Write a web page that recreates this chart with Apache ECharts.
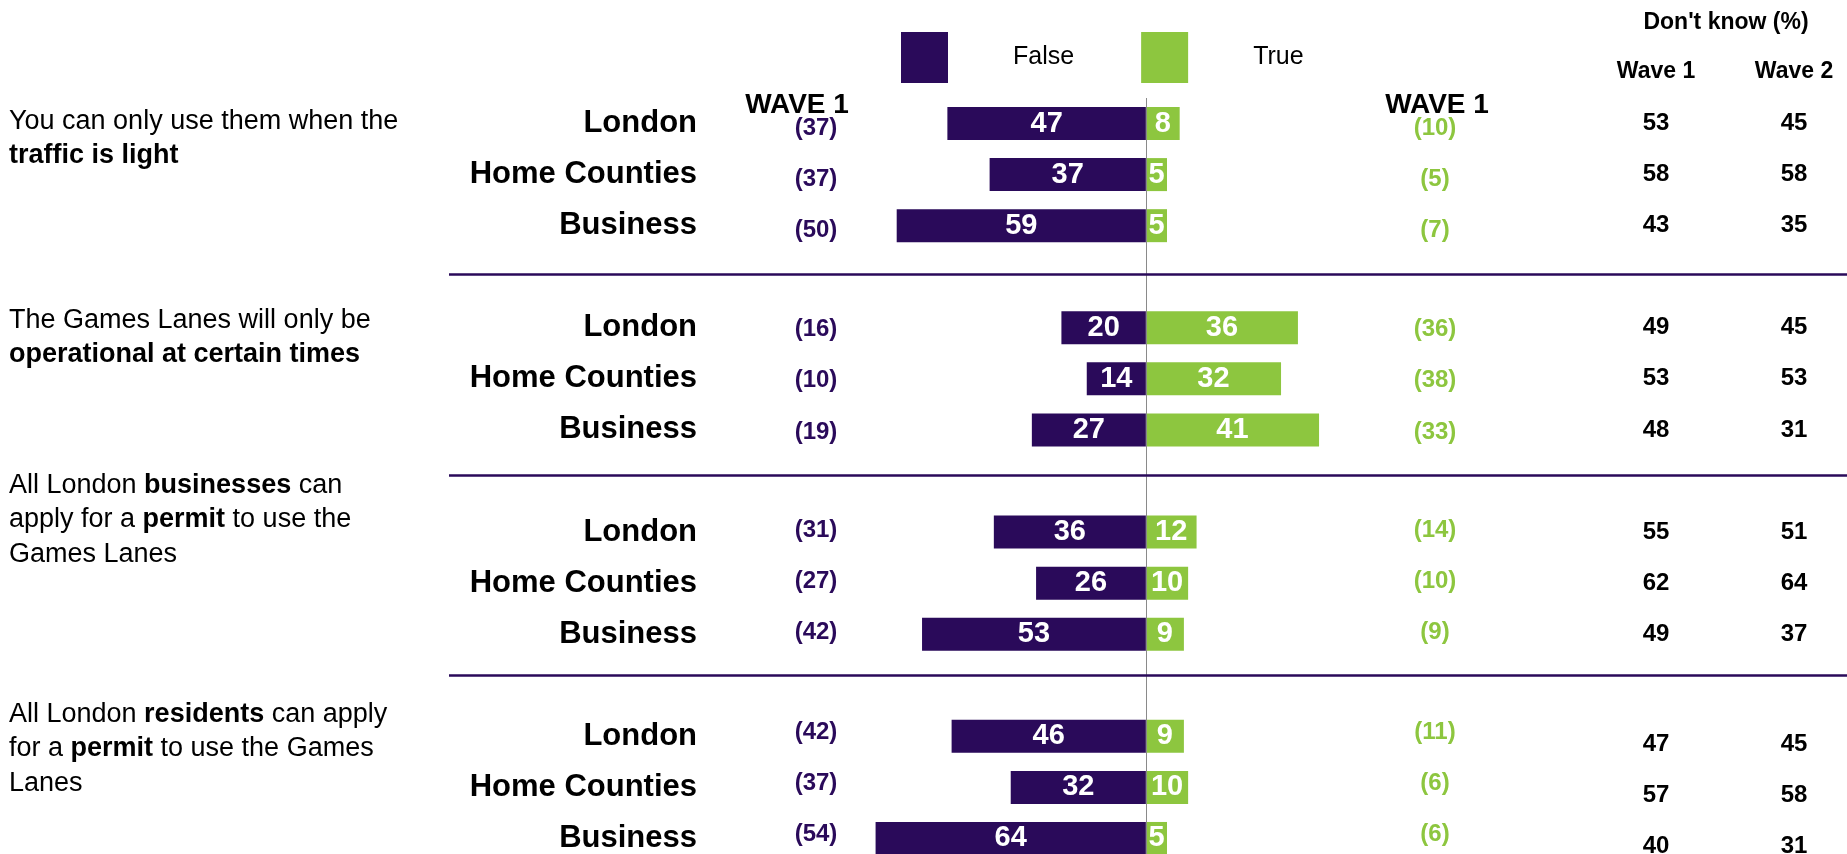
<!DOCTYPE html>
<html>
<head>
<meta charset="UTF-8">
<title>Games Lanes - True / False</title>
<style>
  html, body { margin: 0; padding: 0; background: #fff; }
  #chart { width: 1847px; height: 854px; }
</style>
</head>
<body>
<div id="chart"></div>
<script src="https://cdn.jsdelivr.net/npm/echarts@6/dist/echarts.min.js"></script>
<script>
// groups shown under each statement
const groups = ['London', 'Home Counties', 'Business'];

// statements (rich text: n = normal, b = bold)
const statements = [
  '{n|You can only use them when the}\n{b|traffic is light}',
  '{n|The Games Lanes will only be}\n{b|operational at certain times}',
  '{n|All London }{b|businesses}{n| can}\n{n|apply for a }{b|permit}{n| to use the}\n{n|Games Lanes}',
  '{n|All London }{b|residents}{n| can apply}\n{n|for a }{b|permit}{n| to use the Games}\n{n|Lanes}'
];

// wave 2 shares (%), one per row, statement by statement
const falseWave2 = [47, 37, 59, 20, 14, 27, 36, 26, 53, 46, 32, 64];
const trueWave2  = [8, 5, 5, 36, 32, 41, 12, 10, 9, 9, 10, 5];

// wave 1 shares shown in brackets
const falseWave1 = [37, 37, 50, 16, 10, 19, 31, 27, 42, 42, 37, 54];
const trueWave1  = [10, 5, 7, 36, 38, 33, 14, 10, 9, 11, 6, 6];

// don't know (%)
const dkWave1 = [53, 58, 43, 49, 53, 48, 55, 62, 49, 47, 57, 40];
const dkWave2 = [45, 58, 35, 45, 53, 31, 51, 64, 37, 45, 58, 31];

const legendNames = ['False', 'True'];

const PURPLE = '#2a0a5a';
const GREEN = '#8dc63f';
const FONT = '"Liberation Sans", Arial, sans-serif';

// put an empty slot between the statement blocks
function withGaps(arr) {
  const out = [];
  arr.forEach((v, i) => {
    if (i > 0 && i % 3 === 0) out.push(null);
    out.push(v);
  });
  return out;
}

const rowNames = withGaps(statements.flatMap(() => groups));
const keys = rowNames.map((_, i) => 'r' + i);

// small vertical nudges per statement block (px, + = down), like the original slide
function nudges(shifts) {
  const rich = {};
  shifts.forEach((s, g) => {
    rich['g' + g] = { padding: s >= 0 ? [2 * s, 0, 0, 0] : [0, 0, -2 * s, 0] };
  });
  return rich;
}

function labelAxis(values, fmt, margin, align, style, shifts) {
  const label = {
    interval: 0,
    margin: margin,
    align: align,
    fontFamily: FONT,
    formatter: (v, i) => {
      if (values[i] == null) return '';
      const t = fmt(values[i]);
      return shifts ? '{g' + Math.floor(i / 4) + '|' + t + '}' : t;
    }
  };
  if (shifts) {
    const rich = nudges(shifts);
    Object.keys(rich).forEach(k => Object.assign(rich[k], style));
    label.rich = rich;
  }
  return {
    type: 'category',
    position: 'left',
    inverse: true,
    data: keys,
    axisLine: { show: false },
    axisTick: { show: false },
    splitLine: { show: false },
    axisLabel: Object.assign(label, style)
  };
}

const br = v => '(' + v + ')';

const chart = echarts.init(document.getElementById('chart'));

const texts = [];
statements.forEach((s, k) => {
  texts.push({
    type: 'text', x: 9, y: [104, 303, 468, 697][k],
    style: {
      text: s, align: 'left', verticalAlign: 'top',
      rich: {
        n: { fontSize: 27, fontFamily: FONT, fill: '#000', lineHeight: 34.5 },
        b: { fontSize: 27, fontFamily: FONT, fontWeight: 'bold', fill: '#000', lineHeight: 34.5 }
      }
    }
  });
});
function head(text, x, y, size) {
  return {
    type: 'text', x: x, y: y,
    style: { text: text, fill: '#000', font: 'bold ' + size + 'px ' + FONT, align: 'center', verticalAlign: 'middle' }
  };
}
texts.push(head('WAVE 1', 797, 105, 28));
texts.push(head('WAVE 1', 1437, 105, 28));
texts.push(head("Don't know (%)", 1726, 23, 23));
texts.push(head('Wave 1', 1656, 72, 23));
texts.push(head('Wave 2', 1794, 72, 23));

const waveShift = [5, 2, -2, -4];
const dkShift = [0, 0, 0, 8];

const option = {
  animation: false,
  backgroundColor: '#fff',
  textStyle: { fontFamily: FONT },
  grid: { left: 449, right: 0, top: 98, height: 766, outerBoundsMode: 'none', containLabel: false },
  legend: {
    data: legendNames,
    left: 901,
    top: 32,
    padding: 0,
    itemWidth: 47,
    itemHeight: 51,
    itemGap: 67,
    icon: 'rect',
    selectedMode: false,
    textStyle: { fontSize: 25, color: '#000', fontFamily: FONT, padding: [0, 0, 0, 60] }
  },
  xAxis: {
    type: 'value',
    min: -165,
    max: 166,
    show: false
  },
  yAxis: [
    labelAxis(rowNames, v => v, -248, 'right', { fontSize: 31, fontWeight: 'bold', color: '#000' }),
    labelAxis(withGaps(falseWave1), br, -367, 'center', { fontSize: 24, fontWeight: 'bold', color: PURPLE }, waveShift),
    labelAxis(withGaps(trueWave1), br, -986, 'center', { fontSize: 24, fontWeight: 'bold', color: GREEN }, waveShift),
    labelAxis(withGaps(dkWave1), v => v, -1207, 'center', { fontSize: 24, fontWeight: 'bold', color: '#000' }, dkShift),
    labelAxis(withGaps(dkWave2), v => v, -1345, 'center', { fontSize: 24, fontWeight: 'bold', color: '#000' }, dkShift),
    { type: 'value', min: -0.5, max: 14.5, inverse: true, show: false }
  ],
  series: [
    {
      name: 'False',
      type: 'bar',
      stack: 'tf',
      barWidth: 33,
      yAxisIndex: 0,
      itemStyle: { color: PURPLE },
      data: withGaps(falseWave2).map(v => v == null ? null : -v),
      label: {
        show: true, position: 'inside', color: '#fff', fontSize: 29, fontWeight: 'bold', fontFamily: FONT,
        formatter: p => Math.abs(p.value)
      },
      markLine: {
        silent: true,
        symbol: ['none', 'none'],
        label: { show: false },
        lineStyle: { color: '#8a8a8a', width: 1, type: 'solid' },
        data: [{ xAxis: 0 }]
      }
    },
    {
      name: 'True',
      type: 'bar',
      stack: 'tf',
      barWidth: 33,
      yAxisIndex: 0,
      itemStyle: { color: GREEN },
      data: withGaps(trueWave2),
      label: {
        show: true, position: 'inside', color: '#fff', fontSize: 29, fontWeight: 'bold', fontFamily: FONT
      }
    },
    {
      // separators between the statement blocks
      type: 'line',
      yAxisIndex: 5,
      data: [],
      silent: true,
      markLine: {
        silent: true,
        symbol: ['none', 'none'],
        label: { show: false },
        lineStyle: { color: PURPLE, width: 2.5, type: 'solid' },
        data: [{ yAxis: 2.96 }, { yAxis: 6.88 }, { yAxis: 10.81 }]
      }
    }
  ],
  graphic: texts
};

chart.setOption(option);
</script>
</body>
</html>
